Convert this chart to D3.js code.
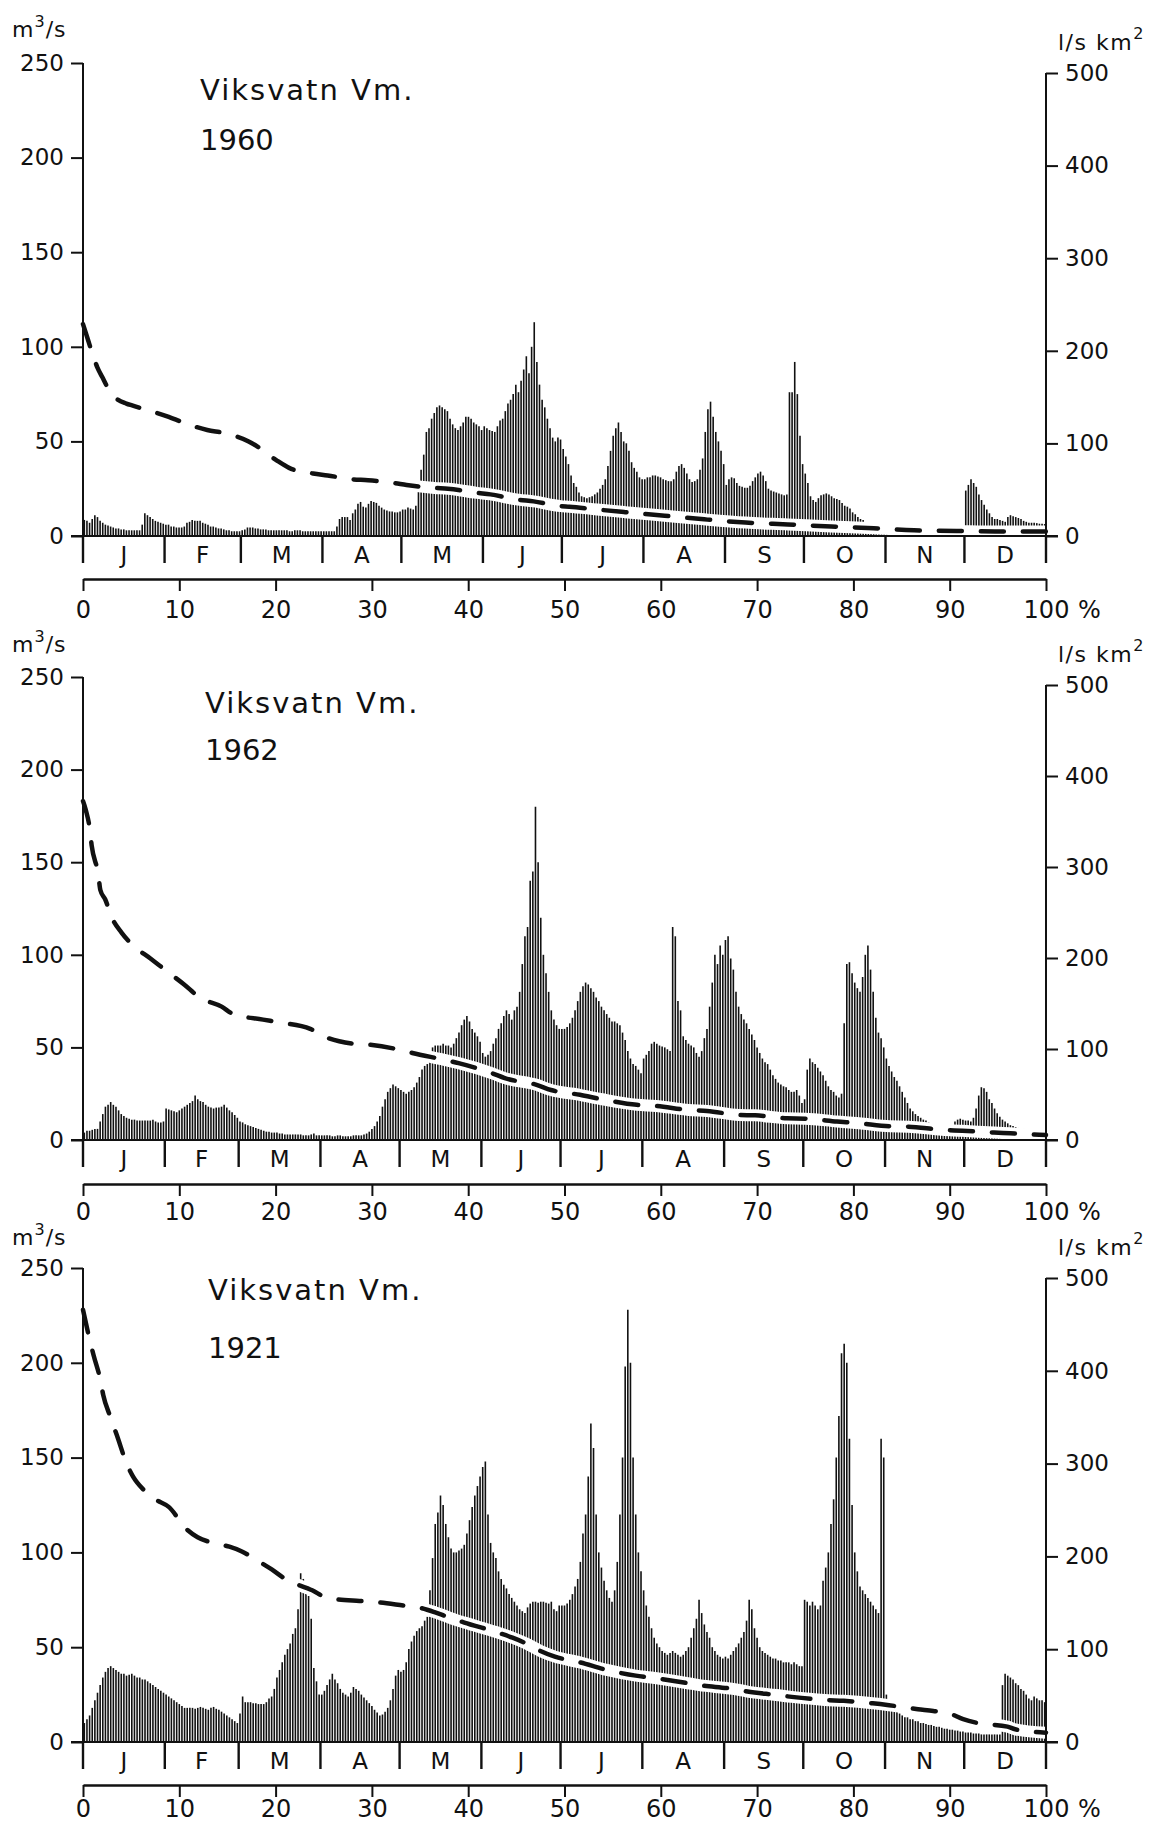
<!DOCTYPE html>
<html>
<head>
<meta charset="utf-8">
<script src="https://cdn.jsdelivr.net/npm/d3@7"></script>
<style>
  html,body{margin:0;padding:0;background:#fff;}
  svg{display:block;}
  text{font-family:"DejaVu Sans",sans-serif;fill:#111;}
</style>
</head>
<body>
<svg id="chart" width="1159" height="1827"></svg>
<script>
// ---------------- DATA ----------------
const monthLabels = ["J","F","M","A","M","J","J","A","S","O","N","D"];
const monthDaysLeap = [31,29,31,30,31,30,31,31,30,31,30,31];
const monthDaysNormal = [31,28,31,30,31,30,31,31,30,31,30,31];
const leftTicks = [0,50,100,150,200,250];
const rightTicks = [0,100,200,300,400,500];
const pctTicks = [0,10,20,30,40,50,60,70,80,90,100];
const stationName = "Viksvatn Vm.";

// daily discharge m3/s, 1960 (leap year)
const flow1960 = [
 8.5,8,7,9,11,10,8,7,6,5.5,5,4.5,4,4,3.5,3.5,3,3,3,3,3,3,6,12,11,10,9,8,7.5,7,6.5,
 6,6,5,5,4.5,4.5,4.5,5,7,7.5,8.5,8,8,8,7,6.5,6,5,5,4.5,4,4,3.5,3,3,2.5,2.5,2.5,2.5,
 3,3.5,4.5,4.5,4.5,4,4,3.5,3.5,3.5,3,3,3,3,3,3,3,3,2.5,2.5,3,3,3,2.5,2.5,2.5,2.5,2.5,2.5,2.5,2.5,
 2.5,2.5,2.5,2.5,2.5,5,9,10,10,10,8.5,12,14,17,18,15.5,15,17,18.5,18,17.5,16,15,14,13.5,13,13,12.5,12.5,13,
 14,14,15,14.5,14,16,24,35,43,55,57,62,65,68,69,68,67,66,62,59,57,56,58,60,63,63,62,60,59,58,56,
 58,57,56,55.5,55,58,61,62,66,70,72,75,80,76,82,88,95,86,100,113,92,80,72,68,62,57,52,50,52,51,
 46,42,38,32,28,26,23,21,20.5,20,20.5,21,22,23,25,27,30,37,45,53,57,60,55,50,49,45,39,36,34,31,30,
 30,31,31,32,32,31.5,31,30,29.5,29,29,30,34,37,38,36,33,30,28.5,29,30,35,41,55,67,71,63,55,50,45,38,
 27,30,31,30.5,28,26.5,26,25.5,25.5,26.5,29,31,33,34,32,29,25,24,23.5,23,22.5,22,21.5,22,76,76,92,75,53,38,
 33,28,21,19,18,20,21.5,22,22.5,22,21,20,19.5,19,17.5,16,15.5,14.5,12.5,11.5,10,9,8.5,6.5,4.5,3,2.5,2.5,2.5,2.5,2.5,
 2.2,2,2,2,1.8,1.8,1.8,1.8,1.8,1.8,1.8,1.8,1.8,1.8,1.8,1.8,1.8,1.8,1.8,1.8,1.8,1.8,1.8,1.8,1.8,1.8,1.8,1.8,2,2,
 24,27,30,28,26,22,19,16.5,14,12,10,9,9,8.5,8,7.5,10,11,10.5,10,9.5,9,8,7.5,7,7,7,6.8,6.5,6.5,6.3
];
// duration curve 1960: [percent of time, m3/s]
const duration1960 = [
 [0,112],[0.5,104],[1,96],[1.5,89],[2,84],[2.5,79],[3,75],[3.5,72.5],[4.5,70],[5.1,69],[6.4,67],[8.9,63],
 [10.4,60],[12.9,56],[14.7,54.4],[17.2,50],[18.2,47],[20.1,40],[21.4,36],[23.9,33],[25.4,32],[27.9,30],
 [29.6,29.5],[32.3,28],[33.6,27],[36.5,25.4],[37.9,25],[40.9,22.8],[42.3,22],[45.2,19.2],[46.8,18.3],
 [49.6,15.8],[50.5,15.5],[53.4,14],[56.3,12.6],[60.4,10.7],[64.5,8.8],[68.8,7.1],[73.2,6.1],[77.7,5],
 [82.1,4.1],[86.3,3],[90.7,2.7],[94.7,2.4],[100,2.4]
];

// daily discharge m3/s, 1962
const flow1962 = [
 4,5,5,5.5,6,6,10,14,18,19,20.5,19,18,16,14,13,12,11.5,11,11,10.5,10.5,10.5,10.5,10.5,10.5,11,10,9.5,9.5,10,
 17,16.5,16,15.5,15,16,17,18,19,20,21,24,22,21,20.5,19,18,17.5,17,17.5,17.5,18,19,17.5,16,15,13.5,12,
 10,9.5,8.5,8,7.5,7,6.5,6,5.5,5,4.5,4.5,4,4,4,3.5,3.5,3,3,3,3,3,3,3,2.5,2.5,2.5,3,3.5,2.5,2.5,
 2.5,2.5,2.5,2.5,2,2,2.5,2.5,2,2,2,2,2.5,2.5,2.5,2.5,3,3.5,4.5,6,7.5,10,13,18,22,26,28,30,29,28,
 27,26,25,26,27,28.5,31,34,38,40,41,45,50,51,51,51,52,51,51,50,52,55,58,62,65,67,64,60,58,56,53,
 47,45,46,48,52,55,60,63,67,70,68,65,70,72,80,95,110,115,140,145,180,150,120,100,90,80,70,65,62,60,
 60,60,61,63,66,70,75,80,83,85,84,82,80,77,75,72,70,68,66,64,64,63,62,58,54,48,44,41,40,38,36,
 44,46,48,52,53,52,51,50.5,50,49,48,115,110,75,70,56,54,52,51,50,47,45,48,55,60,72,85,100,95,105,100,
 108,110,98,92,80,72,68,65,63,60,57,54,50,47,44,42,41,38,35,33,31,30,29,28.5,27,26,26,27,24,20,
 22,38,44,42,41,39,37,35,32,29,27,26,24,23,25,63,95,96,90,85,82,80,88,100,105,92,80,66,58,55,50,
 44,40,37,34,32,29,26,23,20,17,15.5,14,13,12,11,10.5,9.5,8,6,4.5,4,3.5,3.5,3.5,3.5,4,10,11,11.5,11,
 10.5,10.5,10,12,17,24,28.5,28,26,22,20,17,14.5,12.5,11,10,9,8,7.5,7,6.5,6,6,5.5,5.5,5,5,4.5,4,4,3.5
];
const duration1962 = [
 [0,183],[0.3,178],[0.7,168],[0.9,159],[1.6,143],[1.8,135],[2.3,130],[3,120],[4,112],[5,106],[7,98],
 [9,90],[10.5,84],[12.1,77],[14.4,72],[15.6,68],[18.7,65],[20.4,63.5],[23.6,60],[25,56],[28,52],
 [29.8,51.4],[32.9,48.7],[34.2,47],[37.5,43.3],[39,41.5],[42.5,36],[43.8,33.4],[47.1,29.8],[48.6,27],
 [51.6,24.4],[53.9,22],[57.5,19],[59.5,18.4],[62.9,16.2],[64.8,15.7],[68.1,13.5],[69.8,13.3],[73.1,11.7],
 [75,11.5],[78.3,10],[80.6,9],[83.8,7.4],[85.7,7.2],[89.2,5.5],[91.3,5],[94.6,4],[96.3,3.6],[99.3,2.8],[100,2.7]
];

// daily discharge m3/s, 1921
const flow1921 = [
 10,12,14,18,22,26,30,34,37,39,40,39,38,37,36,36,35,35.5,36,35,34,34,33,33,32,31,30,29,28,27,26,
 25,24,23,22,21,20,19,18,18,18,18,17.5,18,18.5,18,17.5,17,18,18.5,17.5,17,16,15,14,13,12,11,10,
 15,24,21,21,21,20.5,20.5,20,20,20,21,23,24,28,34,38,42,46,49,52,57,60,70,89,86,80,77,65,39,32,25,
 25,27,30,33,36,33,31,28,26,25,24,26,29,28,27,25,23.5,22,20.5,19,17,15.5,14,14.5,16,18,22,28,35,38,
 37,38,42,49,53,56,58.5,60,61,64,66,80,97,115,121,130,125,115,108,102,100,100,101,102,104,110,117,124,130,135,140,
 145,148,120,105,100,97,90,86,83,81,78,76,74,72,70,69,68,71,73,74,74,73.5,74,74,73.5,73,74,70,69,72,
 72,72,73,75,78,82,86,95,110,120,140,168,155,120,100,92,85,80,76,74,80,95,120,150,198,228,200,150,120,100,90,
 80,72,66,60,55,52,50,48,47,46,47,48,47,46,45,46,48,50,55,60,65,75,68,62,58,55,50,48,46,45,44,
 45,44,46,48,50,52,55,58,64,75,70,60,55,50,48,47,46,45,44,44,43,43,42,42,42,41,42,41,40,40,
 75,74,72,74,72,70,72,85,92,100,115,128,150,172,205,210,200,160,125,100,90,82,80,78,76,74,72,70,68,160,150,
 25,22,20,18,16,15,14,13,13,12,12,11,11,10,10,9.5,9,9,8.5,8,8,7.5,7,7,6.5,6.5,6,6,5.5,5.5,
 5,5,5,4.5,4.5,4.5,4,4,4,4,4,4,4,4,30,36,35,34,33,31,30,28,27,25,23,22,24,23,22,22,21
];
const duration1921 = [
 [0,228],[0.7,212],[1.1,204],[1.8,191],[2.1,183],[2.8,172],[3.5,162],[4.6,146],[5.2,140],[6.3,133],
 [7.5,128],[8.9,124],[10.8,112],[11.9,108],[13.5,105],[15.2,103],[16.5,100.5],[18,96],[19.6,91],[21,86],
 [23.8,80],[25.4,76],[28.7,74.4],[30,74],[33.3,72],[34.8,71],[36.5,68.5],[38.1,65.5],[39.6,63],[42.9,58],
 [44.6,55],[46,52],[47.5,48],[49,45],[51.6,42],[54.4,38],[57.4,35],[59,34],[62.8,31],[64,30],[67.5,28],
 [69,26.6],[72,24.8],[73.6,23.8],[77,22.2],[79,21.7],[82,20.4],[83.7,19.4],[86.7,17.3],[88.3,16.4],
 [90,15],[91.4,12],[93,9.9],[96,8.1],[96.8,6.7],[100,4.9]
];

// ---------------- LAYOUT ----------------
const layouts = [
  {y0:536,  topL:63,   topR:73,   unitL:37,   unitR:50,   title:100,  year:150,  tx:200, pctGap:43, pctPad:10},
  {y0:1140, topL:677,  topR:685,  unitL:652,  unitR:662,  title:713,  year:760,  tx:205, pctGap:44, pctPad:7},
  {y0:1742, topL:1268, topR:1278, unitL:1245, unitR:1255, title:1300, year:1358, tx:208, pctGap:43, pctPad:3}
];
const charts = [
  {values:flow1960, curve:duration1960, months:monthDaysLeap,   year:"1960"},
  {values:flow1962, curve:duration1962, months:monthDaysNormal, year:"1962"},
  {values:flow1921, curve:duration1921, months:monthDaysNormal, year:"1921"}
];

const svg = d3.select("#chart");
svg.append("rect").attr("width",1159).attr("height",1827).attr("fill","#fff");
const X0 = 83, X1 = 1046, INK = "#111";

charts.forEach((c, k) => {
  const L = layouts[k];
  const g = svg.append("g");
  const xd = d3.scaleLinear().domain([0, c.values.length]).range([X0, X1]);
  const xp = d3.scaleLinear().domain([0, 100]).range([X0, X1]);
  const yl = d3.scaleLinear().domain([0, 250]).range([L.y0, L.topL]);
  const yr = d3.scaleLinear().domain([0, 500]).range([L.y0, L.topR]);

  // daily bars
  g.append("g").selectAll("line").data(c.values).join("line")
    .attr("x1", (d,i) => xd(i + 0.5)).attr("x2", (d,i) => xd(i + 0.5))
    .attr("y1", L.y0).attr("y2", d => yl(d))
    .attr("stroke", INK).attr("stroke-width", 1.6);

  // duration curve (white halo + dashed line)
  const line = d3.line().x(d => xp(d[0])).y(d => yl(d[1])).curve(d3.curveMonotoneX);
  g.append("path").attr("d", line(c.curve)).attr("fill","none")
    .attr("stroke","#fff").attr("stroke-width",12);
  g.append("path").attr("d", line(c.curve)).attr("fill","none")
    .attr("stroke",INK).attr("stroke-width",4.5)
    .attr("stroke-dasharray","23,19").attr("stroke-linecap","round");

  // zero line
  g.append("line").attr("x1",X0-12).attr("x2",X1+12).attr("y1",L.y0).attr("y2",L.y0)
    .attr("stroke",INK).attr("stroke-width",2);

  // left axis
  const gl = g.append("g").attr("transform",`translate(${X0},0)`)
    .call(d3.axisLeft(yl).tickValues(leftTicks).tickSize(12).tickPadding(7));
  gl.select(".domain").remove();
  gl.selectAll(".tick line").attr("stroke",INK).attr("stroke-width",2);
  gl.selectAll(".tick text").style("font-family","DejaVu Sans").style("font-size","23px").attr("fill",INK);
  g.append("line").attr("x1",X0).attr("x2",X0).attr("y1",L.topL).attr("y2",L.y0+27)
    .attr("stroke",INK).attr("stroke-width",2);

  // right axis
  const gr = g.append("g").attr("transform",`translate(${X1},0)`)
    .call(d3.axisRight(yr).tickValues(rightTicks).tickSize(12).tickPadding(7));
  gr.select(".domain").remove();
  gr.selectAll(".tick line").attr("stroke",INK).attr("stroke-width",2);
  gr.selectAll(".tick text").style("font-family","DejaVu Sans").style("font-size","23px").attr("fill",INK);
  g.append("line").attr("x1",X1).attr("x2",X1).attr("y1",L.topR).attr("y2",L.y0+27)
    .attr("stroke",INK).attr("stroke-width",2);

  // month row
  const cum = [0];
  c.months.forEach(m => cum.push(cum[cum.length-1] + m));
  g.append("g").selectAll("line").data(cum).join("line")
    .attr("x1", d => xd(d)).attr("x2", d => xd(d))
    .attr("y1", L.y0).attr("y2", L.y0 + 27)
    .attr("stroke", INK).attr("stroke-width", 2.4);
  g.append("g").selectAll("text").data(monthLabels).join("text")
    .attr("x", (d,i) => xd((cum[i] + cum[i+1]) / 2))
    .attr("y", L.y0 + 27).attr("text-anchor","middle")
    .style("font-size","23px").text(d => d);

  // percent axis
  const pctY = L.y0 + L.pctGap;
  const gp = g.append("g").attr("transform",`translate(0,${pctY})`)
    .call(d3.axisBottom(xp).tickValues(pctTicks).tickSize(12).tickSizeOuter(0).tickPadding(L.pctPad));
  gp.select(".domain").attr("stroke",INK).attr("stroke-width",2.4);
  gp.selectAll(".tick line").attr("stroke",INK).attr("stroke-width",2);
  gp.selectAll(".tick text").style("font-family","DejaVu Sans").style("font-size","24px").attr("fill",INK);
  g.append("text").attr("x", X1 + 32).attr("y", pctY + 12 + L.pctPad + 17)
    .style("font-size","24px").text("%");

  // unit labels
  const ul = g.append("text").attr("x", 12).attr("y", L.unitL).style("font-size","22px")
    .style("letter-spacing","1px");
  ul.append("tspan").text("m");
  ul.append("tspan").attr("dy",-10).style("font-size","16px").text("3");
  ul.append("tspan").attr("dy",10).text("/s");
  const ur = g.append("text").attr("x", 1058).attr("y", L.unitR).style("font-size","22px")
    .style("letter-spacing","1.5px");
  ur.append("tspan").text("l/s km");
  ur.append("tspan").attr("dy",-11).style("font-size","16px").text("2");

  // title
  g.append("text").attr("x", L.tx).attr("y", L.title).style("font-size","29px")
    .style("letter-spacing","2px").text(stationName);
  g.append("text").attr("x", L.tx).attr("y", L.year).style("font-size","29px").text(c.year);
});
</script>
</body>
</html>
